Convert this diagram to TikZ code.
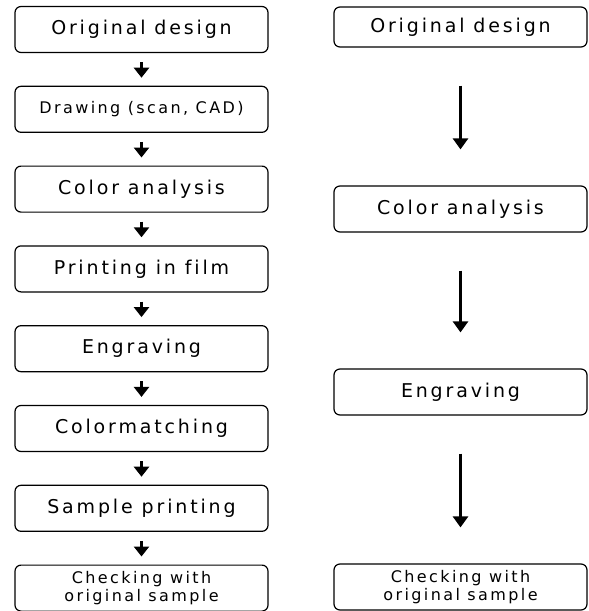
\documentclass[tikz,border=0pt]{standalone}
\usepackage{fontspec}
\newfontfamily\boxfont[LetterSpace=15,Ligatures=NoCommon]{DejaVu Sans}
\usetikzlibrary{positioning,arrows.meta}
\begin{document}
\begin{tikzpicture}[x=1pt,y=-1pt,
	node distance=32.6pt,
	stage/.style={draw,line width=1.2pt,rounded corners=6pt,minimum width=253pt,minimum height=46pt,inner sep=0pt,font=\boxfont\fontsize{19}{21}\selectfont},
	small/.style={font=\boxfont\fontsize{16}{18}\selectfont,align=center},
	shortarrow/.style={line width=2.6pt,-{Triangle[width=15pt,length=10pt]},shorten <=9pt,shorten >=8pt},
	longarrow/.style={line width=2.6pt,-{Triangle[width=15pt,length=11pt]},shorten <=38pt,shorten >=36pt}]
\useasboundingbox (0,0) rectangle (589,611);
\node[stage] (l1) at (141.5,29.5) {Original design};
\node[stage,small,below=of l1] (l2) {Drawing (scan, CAD)};
\node[stage,below=of l2] (l3) {Color analysis};
\node[stage,below=of l3] (l4) {Printing in film};
\node[stage,below=of l4] (l5) {Engraving};
\node[stage,below=of l5] (l6) {Colormatching};
\node[stage,below=of l6] (l7) {Sample printing};
\node[stage,small,below=of l7] (l8) {Checking with\\original sample};
\node[stage,minimum height=40pt] (r1) at (460.5,27) {Original design};
\node[stage] (r2) at (460.5,209) {Color analysis};
\node[stage] (r3) at (460.5,392) {Engraving};
\node[stage,small] (r4) at (460.5,587) {Checking with\\original sample};
\foreach \a/\b in {l1/l2,l2/l3,l3/l4,l4/l5,l5/l6,l6/l7,l7/l8}
	\draw[shortarrow] (\a) -- (\b);
\foreach \a/\b in {r1/r2,r2/r3,r3/r4}
	\draw[longarrow] (\a) -- (\b);
\end{tikzpicture}
\end{document}
